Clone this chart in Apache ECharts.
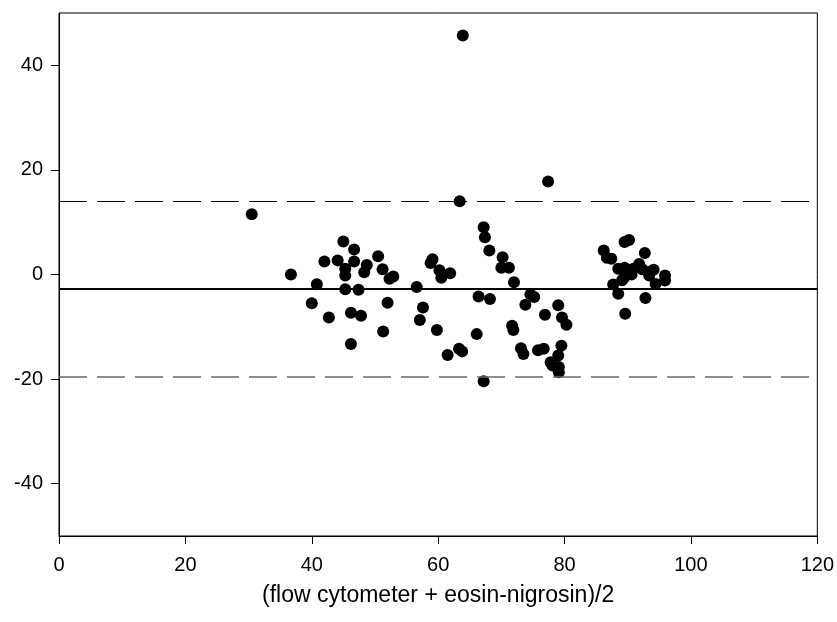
<!DOCTYPE html>
<html>
<head>
<meta charset="utf-8">
<style>
  html, body { margin: 0; padding: 0; background: #fff; }
  #chart { width: 837px; height: 622px; }
</style>
<script src="https://cdn.jsdelivr.net/npm/echarts@6/dist/echarts.min.js"></script>
</head>
<body>
<div id="chart"></div>
<script>
// Mean of the two methods (x) against their difference (y)
const meanValues = [
  30.5, 36.7, 40.0, 40.8, 42.0, 42.7, 44.1, 45.0, 45.3, 45.3, 45.3, 46.2, 46.2, 46.7, 46.7,
  47.4, 47.8, 48.3, 48.7, 50.5, 51.2, 51.3, 52.0, 52.3, 52.9, 56.6, 57.1, 57.6, 58.8, 59.1,
  59.8, 60.2, 60.5, 61.5, 61.9, 63.3, 63.4, 63.8, 63.9, 66.1, 66.4, 67.2, 67.4, 67.2, 68.1,
  68.2, 70.2, 70.0, 71.2, 71.7, 71.9, 72.0, 73.1, 73.5, 73.8, 74.6, 75.2, 75.8, 76.7, 76.9,
  77.4, 77.8, 78.1, 79.0, 79.6, 80.3, 79.5, 79.0, 79.1, 79.1,
  86.2, 86.7, 87.4, 87.7, 88.5, 88.5, 89.1, 89.5, 89.5, 89.5, 90.2, 89.6, 90.2, 90.9, 91.8,
  92.7, 92.8, 93.4, 94.1, 94.4, 95.9, 95.9, 90.6, 92.3, 93.2
];
const differences = [
  11.5, 0.0, -5.5, -1.85, 2.5, -8.2, 2.7, 6.3, 1.1, -0.2, -2.8, -7.3, -13.3, 4.8, 2.5,
  -2.9, -7.9, 0.45, 1.8, 3.5, 1.0, -10.9, -5.4, -0.8, -0.4, -2.4, -8.7, -6.3, 2.2, 2.9,
  -10.6, 0.8, -0.6, -15.4, 0.25, -14.2, 14.0, -14.7, 45.7, -11.4, -4.2, 9.05, 7.1, -20.4, 4.6,
  -4.7, 3.3, 1.3, 1.3, -9.8, -10.6, -1.5, -14.1, -15.2, -5.8, -3.8, -4.3, -14.5, -14.2, -7.7,
  17.8, -16.8, -17.4, -5.9, -8.2, -9.6, -13.6, -15.5, -17.7, -18.7,
  4.6, 3.2, 3.0, -1.9, 1.1, -3.7, -1.1, 1.3, -0.5, 6.2, 6.6, -7.5, 0.8, 1.1, 2.0,
  4.1, -4.5, -0.2, 0.9, -1.8, -0.2, -1.15, 0.0, 1.0, 0.5
];

// Bias and limits of agreement
const meanDifference = -2.75;
const upperLimit = 14.1;
const lowerLimit = -19.6;

// Axis ticks
const xTicks = [0, 20, 40, 60, 80, 100, 120];
const yTicks = [-40, -20, 0, 20, 40];

const xTitle = '(flow cytometer + eosin-nigrosin)/2';

const points = meanValues.map((x, i) => [x, differences[i]]);

const FONT = '"Liberation Sans", Arial, sans-serif';

const chart = echarts.init(document.getElementById('chart'), null, { renderer: 'canvas' });
chart.setOption({
  animation: false,
  backgroundColor: '#ffffff',
  grid: {
    left: 59, right: 18, top: 13, bottom: 86,
    show: true, borderColor: '#000', borderWidth: 1, backgroundColor: 'transparent'
  },
  xAxis: {
    type: 'value', min: 0, max: 120, interval: 20,
    name: xTitle, nameLocation: 'middle', nameGap: 48,
    nameTextStyle: { fontFamily: FONT, fontSize: 23, color: '#000' },
    axisLine: { show: true, onZero: false, lineStyle: { color: '#000', width: 1 } },
    axisTick: { show: true, inside: false, length: 8, lineStyle: { color: '#000' }, customValues: xTicks },
    axisLabel: { fontFamily: FONT, fontSize: 20, color: '#000', margin: 19, customValues: xTicks },
    splitLine: { show: false }
  },
  yAxis: {
    type: 'value', min: -50, max: 50,
    axisLine: { show: true, onZero: false, lineStyle: { color: '#000', width: 1 } },
    axisTick: { show: true, inside: false, length: 8, lineStyle: { color: '#000' }, customValues: yTicks },
    axisLabel: { fontFamily: FONT, fontSize: 20, color: '#000', margin: 16, customValues: yTicks },
    splitLine: { show: false }
  },
  series: [{
    type: 'scatter',
    data: points,
    symbol: 'circle',
    symbolSize: 12,
    itemStyle: { color: '#000', opacity: 1 },
    markLine: {
      silent: true,
      symbol: 'none',
      label: { show: false },
      data: [
        { yAxis: meanDifference, lineStyle: { color: '#000', width: 2, type: 'solid' } },
        { yAxis: upperLimit, lineStyle: { color: '#000', width: 1, type: [28, 10] } },
        { yAxis: lowerLimit, lineStyle: { color: '#6a6a6a', width: 1.5, type: [28, 10] } }
      ]
    }
  }]
});
</script>
</body>
</html>
